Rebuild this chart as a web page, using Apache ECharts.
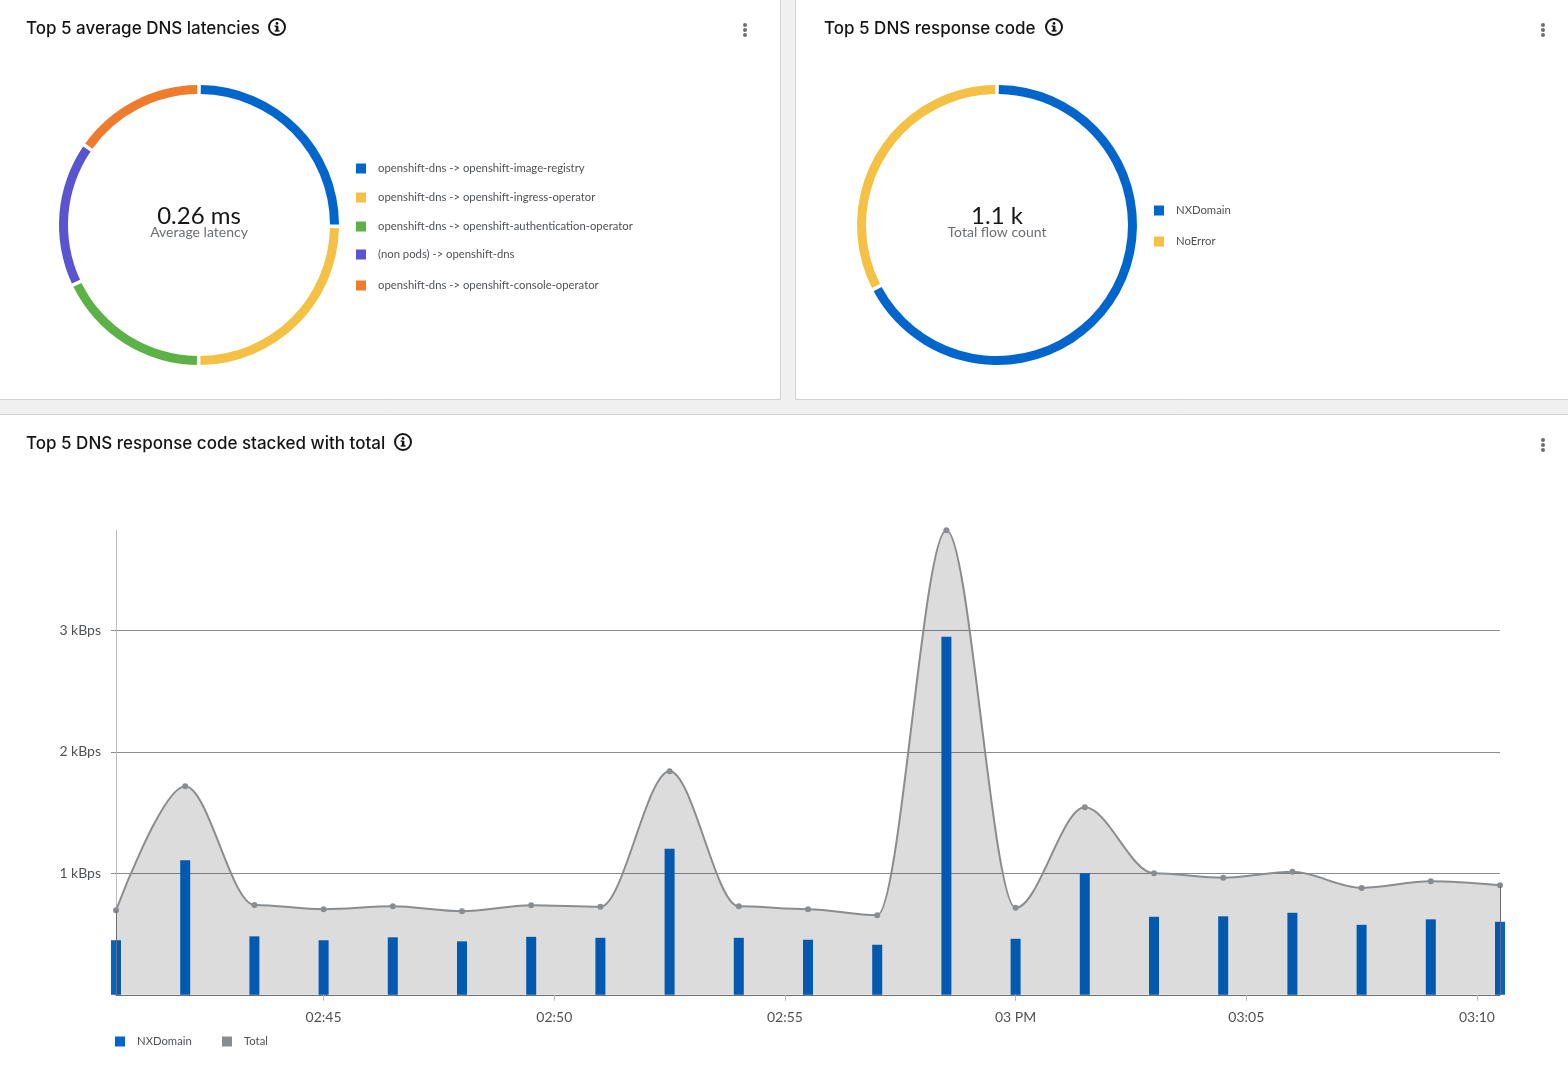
<!DOCTYPE html>
<html><head><meta charset="utf-8">
<style>html,body{margin:0;padding:0;background:#f0f0f0}#c{width:1568px;height:1068px}</style>
<script src="https://cdn.jsdelivr.net/npm/echarts@6/dist/echarts.min.js"></script>
</head><body><div id="c"></div>
<script>
const latencyNames = ['openshift-dns -> openshift-image-registry','openshift-dns -> openshift-ingress-operator','openshift-dns -> openshift-authentication-operator','(non pods) -> openshift-dns','openshift-dns -> openshift-console-operator'];
const latencyValues = [0.327,0.3235,0.2325,0.218,0.199];
const latencyColors = ['#0066cc','#f4c145','#5cb247','#5a54d1','#ef7b2e'];
const responseNames = ['NXDomain','NoError'];
const responseValues = [741,359];
const responseColors = ['#0066cc','#f4c145'];
const times = ['02:40:30','02:42:00','02:43:30','02:45:00','02:46:30','02:48:00','02:49:30','02:51:00','02:52:30','02:54:00','02:55:30','02:57:00','02:58:30','03:00:00','03:01:30','03:03:00','03:04:30','03:06:00','03:07:30','03:09:00','03:10:30'];
const nxDomain = [0.449,1.107,0.481,0.449,0.473,0.44,0.477,0.469,1.202,0.469,0.453,0.412,2.947,0.461,1.0,0.642,0.646,0.675,0.576,0.621,0.601];
const total = [0.695,1.716,0.74,0.704,0.728,0.687,0.737,0.724,1.84,0.728,0.704,0.654,3.823,0.716,1.543,1.0,0.963,1.012,0.88,0.934,0.901];
const timeTicks = ['02:45:00','02:50:00','02:55:00','03:00:00','03:05:00','03:10:00'];
const timeTickLabels = ['02:45','02:50','02:55','03 PM','03:05','03:10'];
const yTicks = [1,2,3];
const yTickLabels = ['1 kBps','2 kBps','3 kBps'];

const FONT = 'Lato, "Noto Sans", sans-serif';
const TITLE_FONT = 'Inter, "Noto Sans", sans-serif';
const ts = s => { const [h,m,sec] = s.split(':').map(Number); return h*3600+m*60+sec; };
const xTickVals = timeTicks.map(ts);
const nxData = times.map((t,i)=>[ts(t),nxDomain[i]]);
const totalData = times.map((t,i)=>[ts(t),total[i]]);

function panel(x,y,w,h){return {type:'rect',z:-10,shape:{x,y,width:w,height:h},style:{fill:'#fff',stroke:'#d2d2d2',lineWidth:1}};}
function info(cx,cy){return [
  {type:'circle',z:5,shape:{cx,cy,r:8},style:{fill:'#fff',stroke:'#151515',lineWidth:2}},
  {type:'circle',z:5,shape:{cx,cy:cy-3.6,r:1.4},style:{fill:'#151515'}},
  {type:'rect',z:5,shape:{x:cx-1.2,y:cy-1.2,width:2.6,height:5.4},style:{fill:'#151515'}},
  {type:'rect',z:5,shape:{x:cx-2.4,y:cy+3.2,width:5,height:1.4},style:{fill:'#151515'}},
  {type:'rect',z:5,shape:{x:cx-2.4,y:cy-1.6,width:2,height:1.4},style:{fill:'#151515'}}
];}
function kebab(cx,cy){return [-5,0,5].map(d=>({type:'circle',z:5,shape:{cx,cy:cy+d,r:2},style:{fill:'#6a6e73'}}));}
function head(text,left,top){return {text,left,top,padding:0,textStyle:{fontFamily:TITLE_FONT,fontSize:17,fontWeight:500,color:'#151515'}};}
function center(text,sub,cx){return [
  {text,left:cx,top:204,padding:0,textAlign:'center',textStyle:{fontFamily:FONT,fontSize:24,fontWeight:400,color:'#151515'}},
  {text:sub,left:cx,top:225,padding:0,textAlign:'center',textStyle:{fontFamily:FONT,fontSize:14,fontWeight:400,color:'#6a6e73'}}
];}
function legendAt(name,left,top){return {data:[name],left,top,padding:0,orient:'horizontal',itemWidth:10,itemHeight:10,itemGap:0,icon:'rect',selectedMode:false,
  textStyle:{fontFamily:FONT,fontSize:11.3,color:'#4f5255',padding:[6,0,0,7]}};}
function donut(cx,names,vals,colors){return {type:'pie',center:[cx,225],radius:[131,140],startAngle:90,clockwise:true,padAngle:1.5,silent:true,label:{show:false},labelLine:{show:false},
  data:names.map((n,i)=>({name:n,value:vals[i],itemStyle:{color:colors[i]}}))};}

const latencyTops=[163,192,221,249,280];
const responseTops=[205,236];

const chart = echarts.init(document.getElementById('c'));
chart.setOption({
  animation:false,
  backgroundColor:'#f0f0f0',
  title:[
    head('Top 5 average DNS latencies',26,20),
    head('Top 5 DNS response code',824,20),
    head('Top 5 DNS response code stacked with total',26,435),
    ...center('0.26 ms','Average latency',199),
    ...center('1.1 k','Total flow count',997)
  ],
  legend:[
    ...latencyNames.map((n,i)=>legendAt(n,356,latencyTops[i])),
    ...responseNames.map((n,i)=>legendAt(n,1154,responseTops[i])),
    legendAt('NXDomain',115,1036),
    legendAt('Total',222,1036)
  ],
  grid:{left:116,width:1384,top:530.3,height:464.5,containLabel:false},
  xAxis:{type:'value',min:ts(times[0]),max:ts(times[times.length-1]),scale:true,
    axisLine:{show:true,lineStyle:{color:'#6f7275',width:1}},
    axisTick:{show:true,length:6,customValues:xTickVals,lineStyle:{color:'#b8bbbe',width:1}},
    axisLabel:{show:true,customValues:xTickVals,margin:16,hideOverlap:false,fontFamily:FONT,fontSize:14,color:'#4f5255',
      formatter:v=>{const i=xTickVals.indexOf(+v);return i>=0?timeTickLabels[i]:'';}},
    splitLine:{show:false}},
  yAxis:{type:'value',min:0,max:3.823,interval:1,
    axisLine:{show:true,lineStyle:{color:'#b8bbbe',width:1}},
    axisTick:{show:true,length:5,customValues:yTicks,lineStyle:{color:'#8a8d90',width:1}},
    axisLabel:{show:true,customValues:yTicks,margin:15,fontFamily:FONT,fontSize:14,color:'#4f5255',
      formatter:v=>{const i=yTicks.indexOf(+v);return i>=0?yTickLabels[i]:'';}},
    splitLine:{show:true,showMinLine:true,showMaxLine:true,lineStyle:{color:'#8a8d90',width:1}}},
  series:[
    donut(199,latencyNames,latencyValues,latencyColors),
    donut(997,responseNames,responseValues,responseColors),
    {type:'bar',name:'NXDomain',data:nxData,barWidth:10,clip:false,silent:true,z:2,itemStyle:{color:'#0066cc'}},
    {type:'line',name:'Total',data:totalData,smooth:0.33,smoothMonotone:'x',clip:false,silent:true,z:3,
      symbol:'circle',symbolSize:6,showAllSymbol:true,
      itemStyle:{color:'#8a8d90'},lineStyle:{color:'#8a8d90',width:2},
      areaStyle:{color:'#151515',opacity:0.15},
      markLine:{silent:true,symbol:'none',label:{show:false},lineStyle:{color:'#6a6e73',width:1,type:'solid'},
        data:[
          [{coord:[ts(times[0]),0]},{coord:[ts(times[0]),total[0]]}],
          [{coord:[ts(times[20]),0]},{coord:[ts(times[20]),total[20]]}]
        ]}}
  ],
  graphic:[
    panel(-2,-2,782.5,401.5),
    panel(795.5,-2,780,401.5),
    panel(-2,414.5,1580,660),
    ...info(277,27),...info(1054,27),...info(403,442),
    ...kebab(745,30),...kebab(1543,30),...kebab(1543,445)
  ]
});
</script></body></html>
